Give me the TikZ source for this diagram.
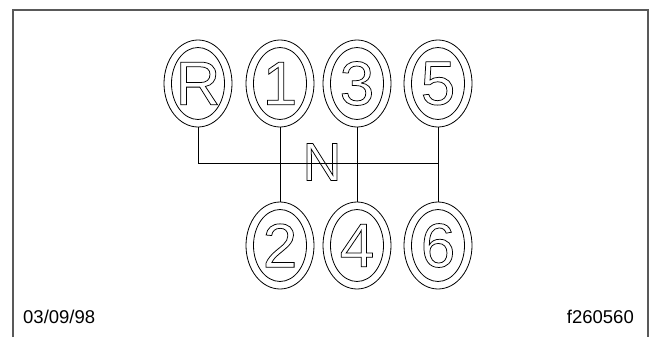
\documentclass[tikz,border=0pt]{standalone}
\usepackage{fontspec}
\setmainfont{Liberation Sans}
\usetikzlibrary{shapes.geometric}
\newcommand{\outlinetext}[1]{\special{pdf:literal direct 1 Tr 0.75 w}#1\special{pdf:literal direct 0 Tr}}
\tikzset{
  gearknob/.style={ellipse, draw, line width=0.8pt, minimum width=68pt, minimum height=87pt, inner sep=0pt,
    font=\fontsize{62}{62}\selectfont},
  innerring/.style={draw, line width=0.8pt},
  shiftline/.style={draw, line width=0.8pt},
  frameline/.style={draw=black!65, line width=1.6pt},
  stamp/.style={font=\fontsize{18.5}{20}\selectfont, inner sep=0pt}
}
\begin{document}
\begin{tikzpicture}[x=1pt,y=-1pt]
\useasboundingbox (0,0) rectangle (652,337);
\draw[frameline] (13,337) -- (13,10) -- (648,10) -- (648,337);
% gear positions
\node[gearknob] (gR) at (198,83.5) {\outlinetext{R}};
\node[gearknob] (g1) at (280,83.5) {\outlinetext{1}};
\node[gearknob] (g3) at (357,83.5) {\outlinetext{3}};
\node[gearknob] (g5) at (438,83.5) {\outlinetext{5}};
\node[gearknob] (g2) at (280,245.5) {\outlinetext{2}};
\node[gearknob] (g4) at (357,245.5) {\outlinetext{4}};
\node[gearknob] (g6) at (438,245.5) {\outlinetext{6}};
\foreach \g in {gR,g1,g3,g5,g2,g4,g6}{
  \draw[innerring] (\g.center) ellipse [x radius=26.5pt, y radius=36pt];
}
% shift pattern
\coordinate (hL) at (198,163);
\coordinate (hR) at (438,163);
\draw[shiftline] (gR.south) -- (hL) -- (hR);
\draw[shiftline] (g1.south) -- (g2.north);
\draw[shiftline] (g3.south) -- (g4.north);
\draw[shiftline] (g5.south) -- (g6.north);
\node[font=\fontsize{54}{54}\selectfont, inner sep=0pt] (N) at (322,162) {\outlinetext{N}};
% stamps
\node[stamp, anchor=base west] (date) at (23,323) {03/09/98};
\node[stamp, anchor=base east] (fig) at (634,323) {f260560};
\end{tikzpicture}
\end{document}
